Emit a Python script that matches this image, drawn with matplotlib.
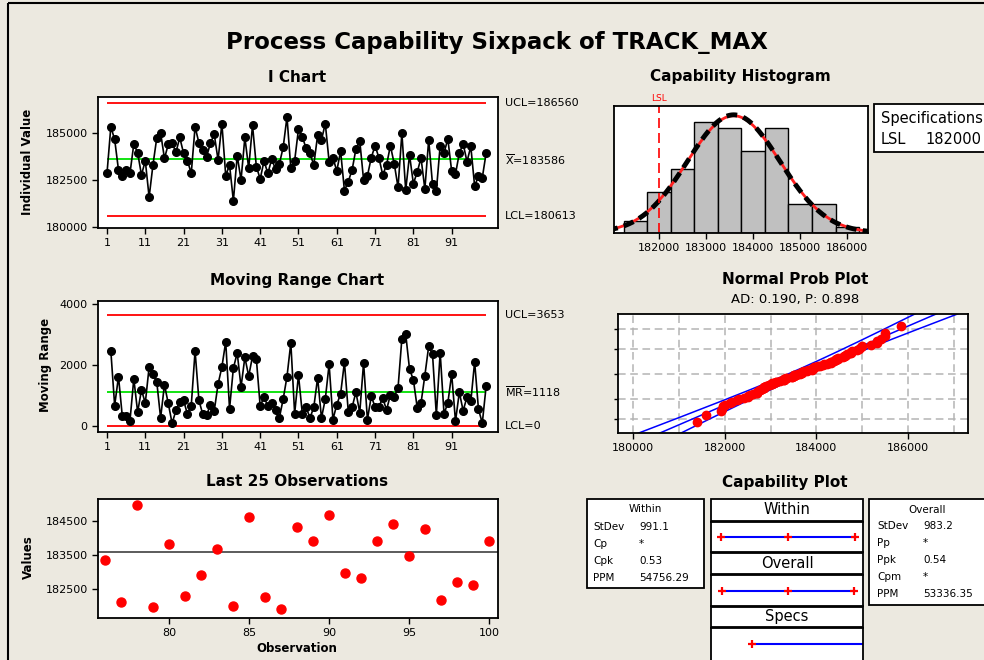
import numpy as np
import matplotlib
matplotlib.use("Agg")
import matplotlib.pyplot as plt
from matplotlib.patches import Rectangle
from statistics import NormalDist

plt.rcParams['font.family'] = ['DejaVu Sans']
plt.rcParams['mathtext.fontset'] = 'dejavusans'

# TRACK_MAX individual measurements, observations 1..100
track_max = [
    182853, 185317, 184648, 183029, 182712, 183029, 182853, 184402, 183944, 182765,
    183522, 181586, 183293, 184736, 185000, 183645, 184384, 184472, 183962, 184754,
    183909, 183522, 182853, 185317, 184472, 184085, 183733, 184437, 184930, 183557,
    185493, 182730, 183293, 181392, 183786, 182501, 184754, 183117, 185405, 183205,
    182554, 183504, 182853, 183592, 183082, 183346, 184226, 185845, 183117, 183522,
    185194, 184789, 184173, 183909, 183293, 184877, 184613, 185493, 183469, 183680,
    182976, 184032, 181938, 182413, 183029, 184138, 184578, 182501, 182712, 183680,
    184314, 183680, 182765, 183293, 184314, 183363, 182109, 184980, 181962, 183824,
    182305, 182912, 183667, 182011, 184627, 182266, 181913, 184324, 183922, 184676,
    182971, 182814, 183922, 184422, 183471, 184275, 182168, 182716, 182618, 183922,
]

# control limits and capability statistics
i_ucl, i_mean, i_lcl = 186560, 183586, 180613
mr_ucl, mr_mean, mr_lcl = 3653, 1118, 0
lsl = 182000
sd_within, sd_overall = 991.1, 983.2

# capability histogram (bins of 500 starting at 181250)
hist_edges = [181250, 181750, 182250, 182750, 183250, 183750,
              184250, 184750, 185250, 185750, 186250]
hist_counts = [2, 7, 11, 19, 18, 14, 18, 5, 5, 1]

within_rows = [("StDev", "991.1"), ("Cp", "*"), ("Cpk", "0.53"), ("PPM", "54756.29")]
overall_rows = [("StDev", "983.2"), ("Pp", "*"), ("Ppk", "0.54"), ("Cpm", "*"), ("PPM", "53336.35")]

W, H = 984, 660
BG = '#ece9e0'
fig = plt.figure(figsize=(W / 100, H / 100), dpi=100, facecolor=BG)

# full-figure layer in pixel coordinates for titles and boxes
ax0 = fig.add_axes([0, 0, 1, 1])
ax0.set_xlim(0, W)
ax0.set_ylim(H, 0)
ax0.axis('off')
ax0.patch.set_visible(False)


def box(l, t, r, b):
    ax = fig.add_axes([l / W, 1 - b / H, (r - l) / W, (b - t) / H])
    for s in ax.spines.values():
        s.set_linewidth(1.3)
    ax.tick_params(labelsize=8, length=4, width=1, direction='out')
    return ax


def rect(l, t, r, b, lw=1.3):
    ax0.add_patch(Rectangle((l, t), r - l, b - t, facecolor='white',
                            edgecolor='black', linewidth=lw, clip_on=False))


def bold(x, y, s, size=11):
    ax0.text(x, y, s, ha='center', va='center', fontsize=size, fontweight='bold')


ax0.add_patch(Rectangle((8, 3), 1000, 700, facecolor='none', edgecolor='black', linewidth=1.5))

bold(497, 42, "Process Capability Sixpack of TRACK_MAX", 16.5)
bold(297, 77, "I Chart")
bold(740, 77, "Capability Histogram")
bold(297, 281, "Moving Range Chart")
bold(795, 280, "Normal Prob Plot")
ax0.text(795, 299, "AD: 0.190, P: 0.898", ha='center', va='center', fontsize=9.5)
bold(297, 482, "Last 25 Observations")
bold(785, 482, "Capability Plot")
ax0.text(28, 162, "Individual Value", rotation=90, ha='center', va='center', fontsize=8.5, fontweight='bold')
ax0.text(45, 365, "Moving Range", rotation=90, ha='center', va='center', fontsize=8.5, fontweight='bold')
ax0.text(28, 557, "Values", rotation=90, ha='center', va='center', fontsize=8.5, fontweight='bold')
ax0.text(297, 648, "Observation", ha='center', va='center', fontsize=8.5, fontweight='bold')

x = np.array(track_max, dtype=float)
obs = np.arange(1, len(x) + 1)
xticks_obs = np.arange(1, 100, 10)

# I chart
ax = box(98, 97, 498, 228)
ax.hlines([i_ucl, i_lcl], 1, 100, color='#ff0000', lw=1.3)
ax.hlines(i_mean, 1, 100, color='#00e000', lw=1.3)
ax.plot(obs, x, '-o', color='black', lw=1.2, ms=5.5)
ax.set_xlim(-1.35, 103.1)
ax.set_ylim(179950, 186900)
ax.set_xticks(xticks_obs)
ax.set_yticks([180000, 182500, 185000])
tr = ax.get_yaxis_transform()
ax.text(1.018, i_ucl, "UCL=%d" % i_ucl, transform=tr, va='center', fontsize=8)
ax.text(1.018, i_mean, r"$\overline{\mathrm{X}}$=%d" % i_mean, transform=tr, va='center', fontsize=8)
ax.text(1.018, i_lcl, "LCL=%d" % i_lcl, transform=tr, va='center', fontsize=8)

# Moving range chart
mr = np.abs(np.diff(x))
ax = box(98, 301, 498, 432)
ax.hlines([mr_ucl, mr_lcl], 1, 100, color='#ff0000', lw=1.3)
ax.hlines(mr_mean, 1, 100, color='#00e000', lw=1.3)
ax.plot(obs[1:], mr, '-o', color='black', lw=1.2, ms=5.5)
ax.set_xlim(-1.35, 103.1)
ax.set_ylim(-197, 4102)
ax.set_xticks(xticks_obs)
ax.set_yticks([0, 2000, 4000])
tr = ax.get_yaxis_transform()
ax.text(1.018, mr_ucl, "UCL=%d" % mr_ucl, transform=tr, va='center', fontsize=8)
ax.text(1.018, mr_mean, r"$\overline{\mathrm{MR}}$=%d" % mr_mean, transform=tr, va='center', fontsize=8)
ax.text(1.018, mr_lcl, "LCL=%d" % mr_lcl, transform=tr, va='center', fontsize=8)

# Last 25 observations
ax = box(98, 499, 498, 618)
ax.axhline(i_mean, color='#404040', lw=1.2)
ax.plot(obs[75:], x[75:], 'o', color='#ff0000', ms=6.5)
ax.set_xlim(75.56, 100.56)
ax.set_ylim(181648, 185147)
ax.set_xticks([80, 85, 90, 95, 100])
ax.set_yticks([182500, 183500, 184500])

# Capability histogram
ax = box(614, 106, 868, 233)
edges = np.array(hist_edges)
ax.bar(edges[:-1], hist_counts, width=np.diff(edges), align='edge',
       color='#c0c0c0', edgecolor='black', linewidth=1)
xs = np.linspace(180900, 186600, 300)
bw = 500
pdf_w = len(x) * bw / (sd_within * np.sqrt(2 * np.pi)) * np.exp(-0.5 * ((xs - i_mean) / sd_within) ** 2)
pdf_o = len(x) * bw / (sd_overall * np.sqrt(2 * np.pi)) * np.exp(-0.5 * ((xs - i_mean) / sd_overall) ** 2)
ax.plot(xs, pdf_w, color='#ff2020', lw=2)
ax.plot(xs, pdf_o, color='black', lw=3.5, ls=(0, (2.2, 1.3)))
ax.axvline(lsl, color='#ff0000', lw=1.2, ls=(0, (6, 3)))
ax.text(lsl, 1.02, "LSL", transform=ax.get_xaxis_transform(), ha='center', va='bottom',
        fontsize=6.5, color='#ff0000')
ax.set_xlim(181043, 186440)
ax.set_ylim(0, 21.8)
ax.set_yticks([])
ax.set_xticks([182000, 183000, 184000, 185000, 186000])

rect(874, 104, 1000, 152)
ax0.text(881, 118, "Specifications", va='center', fontsize=10.5)
ax0.text(881, 140, "LSL", va='center', fontsize=10.5)
ax0.text(925, 140, "%d" % lsl, va='center', fontsize=10.5)

# Normal probability plot
nd = NormalDist()
n = len(x)
xsorted = np.sort(x)
zpts = np.array([nd.inv_cdf((i - 0.3) / (n + 0.4)) for i in range(1, n + 1)])
ax = box(618, 314, 968, 433)
zz = np.linspace(-3.6, 3.6, 200)
fit = i_mean + zz * sd_overall
half = 1.96 * sd_overall * np.sqrt(1 / n + zz ** 2 / (2 * (n - 1)))
for xx in (fit, fit - half, fit + half):
    ax.plot(xx, zz, color='#0000ff', lw=1.1)
ax.plot(xsorted, zpts, 'o', color='#ff0000', ms=6)
ax.set_xlim(179672, 187310)
ax.set_ylim(-3.05, 3.08)
ax.set_xticks([180000, 182000, 184000, 186000])
ax.set_xticks(np.arange(180000, 187001, 1000), minor=True)
ax.set_yticks([nd.inv_cdf(p) for p in (0.01, 0.1, 0.5, 0.9, 0.99)])
ax.set_yticklabels([])
ax.tick_params(axis='y', length=3)
ax.tick_params(axis='x', which='minor', length=0)
ax.grid(True, which='both', color='#b4b4b4', lw=1.1, ls=(0, (5, 3)))
ax.set_axisbelow(True)

# Capability plot: stats boxes
rect(587, 499, 704, 588)
ax0.text(645, 509, "Within", ha='center', va='center', fontsize=7.5)
for k, (lab, val) in enumerate(within_rows):
    yy = 527 + k * 17
    ax0.text(593, yy, lab, va='center', fontsize=7.5)
    ax0.text(639, yy, val, va='center', fontsize=7.5)

rect(869, 499, 1000, 605)
ax0.text(927, 510, "Overall", ha='center', va='center', fontsize=7.5)
for k, (lab, val) in enumerate(overall_rows):
    yy = 526 + k * 17
    ax0.text(877, yy, lab, va='center', fontsize=7.5)
    ax0.text(923, yy, val, va='center', fontsize=7.5)

# Capability plot: interval panels
panels = [("Within", 499, 521, 522, 552, sd_within),
          ("Overall", 553, 574, 575, 606, sd_overall),
          ("Specs", 607, 627, 628, 680, None)]
cap_lim = (180164, 186919)
for name, ht, hb, pt, pb, sd in panels:
    rect(711, ht, 863, hb)
    ax0.text(787, (ht + hb) / 2, name, ha='center', va='center', fontsize=10.5)
    ax = box(711, pt, 863, pb)
    ax.set_xticks([])
    ax.set_yticks([])
    ax.set_xlim(*cap_lim)
    if sd is not None:
        ax.set_ylim(0, 1)
        pts = [i_mean - 3 * sd, i_mean, i_mean + 3 * sd]
        ax.plot([pts[0], pts[-1]], [0.5, 0.5], color='#0000ff', lw=1.5)
        ax.plot(pts, [0.5] * 3, '+', color='#ff0000', ms=6, mew=1.6)
    else:
        ax.set_ylim(0, pb - pt)
        ypos = pb - 644
        ax.plot([lsl, cap_lim[1]], [ypos, ypos], color='#0000ff', lw=1.5)
        ax.plot([lsl], [ypos], '+', color='#ff0000', ms=6, mew=1.6)

fig.savefig("out.png", dpi=100, facecolor=BG)
